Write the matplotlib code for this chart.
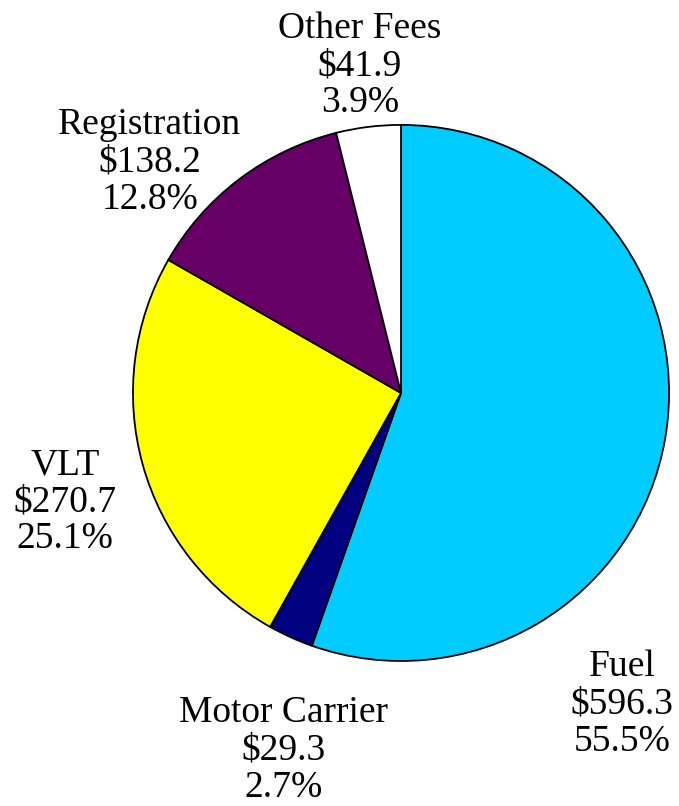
import matplotlib
matplotlib.use("Agg")
import matplotlib.pyplot as plt

categories = ["Fuel", "Motor Carrier", "VLT", "Registration", "Other Fees"]
amounts = [596.3, 29.3, 270.7, 138.2, 41.9]
amount_labels = ["$596.3", "$29.3", "$270.7", "$138.2", "$41.9"]
percent_labels = ["55.5%", "2.7%", "25.1%", "12.8%", "3.9%"]

colors = ["#00CCFF", "#000080", "#FFFF00", "#660066", "#FFFFFF"]
# label anchor points (data units, pie radius = 1)
label_pos = [(0.825, -1.161), (-0.440, -1.333), (-1.254, -0.407),
             (-0.937, 0.861), (-0.153, 1.220)]

plt.rcParams["font.family"] = ["Liberation Serif", "DejaVu Serif"]

fig = plt.figure(figsize=(6.79, 8.06), dpi=100)
ax = fig.add_axes([0, 0, 1, 1])
ax.pie(amounts, colors=colors, startangle=90, counterclock=False,
       radius=1.0, wedgeprops=dict(edgecolor="black", linewidth=1.3))
ax.set_xlim(-1.496, 1.037)
ax.set_ylim(-1.541, 1.466)
ax.axis("off")

for name, amt, pct, (x, y) in zip(categories, amount_labels, percent_labels, label_pos):
    ax.text(x, y, f"{name}\n{amt}\n{pct}", ha="center", va="center",
            fontsize=27, linespacing=1.1)

fig.savefig("out.png", dpi=100)
